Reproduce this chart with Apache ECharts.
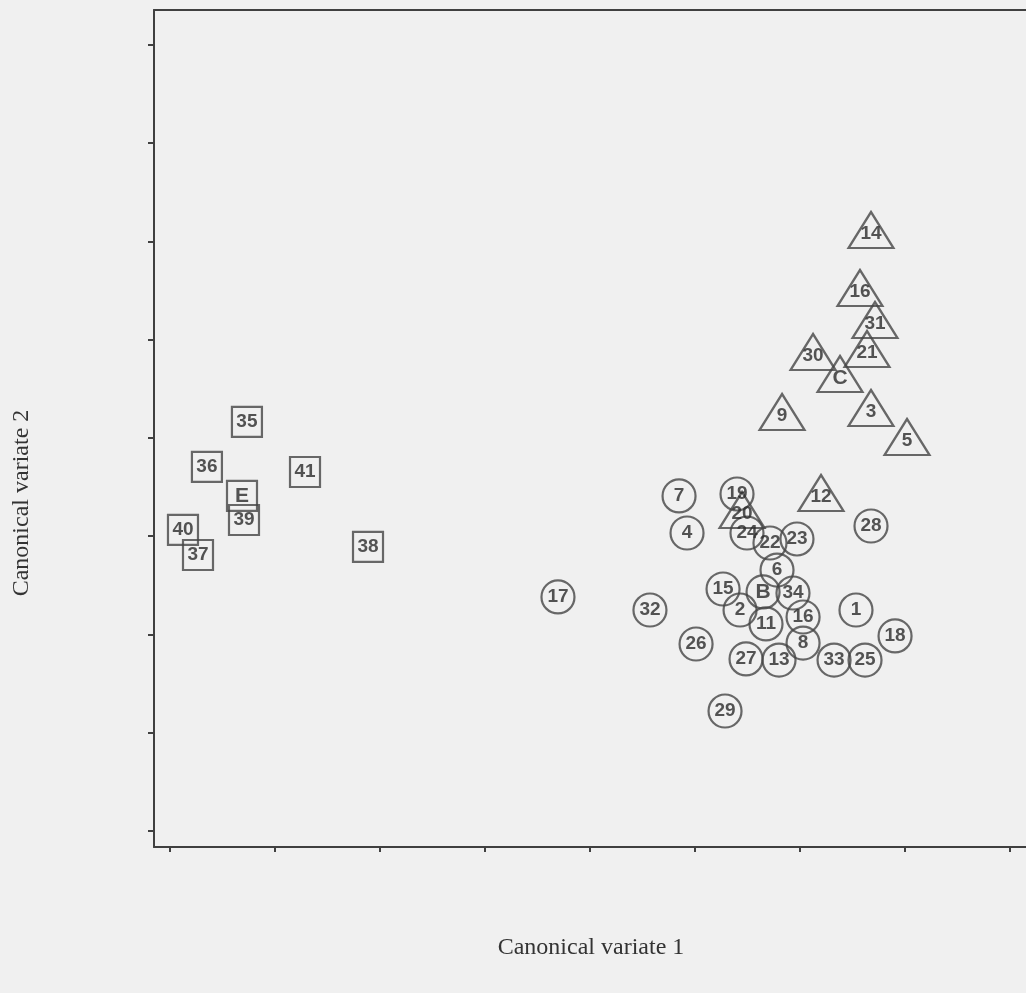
<!DOCTYPE html>
<html>
<head>
<meta charset="utf-8">
<script src="https://cdn.jsdelivr.net/npm/echarts@6/dist/echarts.min.js"></script>
<style>
  html, body { margin: 0; padding: 0; background: #f0f0f0; }
  #chart { width: 1026px; height: 993px; }
</style>
</head>
<body>
<div id="chart"></div>
<script>
// [canonical variate 1, canonical variate 2, label]
const circlePoints = [
  [3.695, 2.382, '17'], [4.571, 2.249, '32'], [5.010, 1.903, '26'],
  [4.848, 3.410, '7'], [4.924, 3.033, '4'], [5.400, 3.430, '19'],
  [5.495, 3.033, '24'], [5.714, 2.931, '22'], [5.971, 2.972, '23'],
  [6.676, 3.104, '28'], [5.781, 2.656, '6'], [5.267, 2.463, '15'],
  [5.933, 2.422, '34'], [5.429, 2.249, '2'], [6.029, 2.178, '16'],
  [6.533, 2.249, '1'], [5.676, 2.107, '11'], [6.029, 1.913, '8'],
  [6.905, 1.985, '18'], [5.486, 1.751, '27'], [5.800, 1.740, '13'],
  [6.324, 1.740, '33'], [6.619, 1.740, '25'], [5.286, 1.221, '29'],
  [5.648, 2.433, 'B']
];

const trianglePoints = [
  [6.676, 6.117, '14'], [6.571, 5.527, '16'], [6.714, 5.201, '31'],
  [6.638, 4.906, '21'], [6.124, 4.875, '30'], [6.381, 4.651, 'C'],
  [5.829, 4.265, '9'], [6.676, 4.305, '3'], [7.019, 4.010, '5'],
  [6.200, 3.440, '12'], [5.448, 3.267, '20']
];

const squarePoints = [
  [0.733, 4.163, '35'], [0.352, 3.705, '36'], [1.286, 3.654, '41'],
  [0.686, 3.410, 'E'], [0.705, 3.165, '39'], [0.124, 3.064, '40'],
  [0.267, 2.809, '37'], [1.886, 2.891, '38']
];

const centroidNames = ['B', 'C', 'E'];
const xTicks = [0, 1, 2, 3, 4, 5, 6, 7, 8];
const yTicks = [0, 1, 2, 3, 4, 5, 6, 7, 8];

const chart = echarts.init(document.getElementById('chart'));

const lineColor = '#404040';
const markColor = '#454545';
const textColor = '#2b2b2b';

function toData(points) {
  return points.map(p => {
    const isCentroid = centroidNames.includes(p[2]);
    return {
      value: [p[0], p[1]],
      name: p[2],
      label: isCentroid ? { fontWeight: 'bold', fontSize: 21 } : undefined
    };
  });
}

function makeSeries(points, symbol, size, labelOffset) {
  return {
    type: 'scatter',
    symbol: symbol,
    symbolSize: size,
    data: toData(points),
    itemStyle: {
      color: 'rgba(240,240,240,0)',
      borderColor: markColor,
      borderWidth: 2.2
    },
    label: {
      show: true,
      position: 'inside',
      offset: labelOffset,
      formatter: p => p.name,
      color: textColor,
      fontFamily: '"Liberation Sans Narrow", "Liberation Sans", Arial, sans-serif',
      fontWeight: 'bold',
      fontSize: 19
    },
    emphasis: { disabled: true }
  };
}

const option = {
  backgroundColor: '#f0f0f0',
  animation: false,
  grid: { left: 154, right: 0, top: 10, bottom: 146 },
  xAxis: [
    {
      type: 'value',
      min: -0.152,
      max: 8.152,
      axisLine: { show: true, onZero: false, lineStyle: { color: lineColor, width: 2 } },
      axisTick: { show: true, customValues: xTicks, length: 5, lineStyle: { color: lineColor, width: 2 } },
      axisLabel: { show: false },
      splitLine: { show: false }
    },
    {
      type: 'value',
      position: 'top',
      min: -0.152,
      max: 8.152,
      axisLine: { show: true, onZero: false, lineStyle: { color: lineColor, width: 2 } },
      axisTick: { show: false },
      axisLabel: { show: false },
      splitLine: { show: false }
    }
  ],
  yAxis: {
    type: 'value',
    min: -0.163,
    max: 8.356,
    axisLine: { show: true, onZero: false, lineStyle: { color: lineColor, width: 2 } },
    axisTick: { show: true, customValues: yTicks, length: 6, lineStyle: { color: lineColor, width: 2 } },
    axisLabel: { show: false },
    splitLine: { show: false }
  },
  graphic: [
    {
      type: 'text',
      x: 591,
      y: 948,
      style: {
        text: 'Canonical variate 1',
        font: '24px "Liberation Serif", "Times New Roman", serif',
        fill: '#333',
        align: 'center',
        verticalAlign: 'middle'
      }
    },
    {
      type: 'text',
      x: 22,
      y: 503,
      rotation: Math.PI / 2,
      style: {
        text: 'Canonical variate 2',
        font: '24px "Liberation Serif", "Times New Roman", serif',
        fill: '#333',
        align: 'center',
        verticalAlign: 'middle'
      }
    }
  ],
  series: [
    makeSeries(squarePoints, 'rect', 30, [0, 0]),
    makeSeries(trianglePoints, 'triangle', [45, 36], [0, 4]),
    makeSeries(circlePoints, 'circle', 33, [0, 0])
  ]
};

chart.setOption(option);
</script>
</body>
</html>
